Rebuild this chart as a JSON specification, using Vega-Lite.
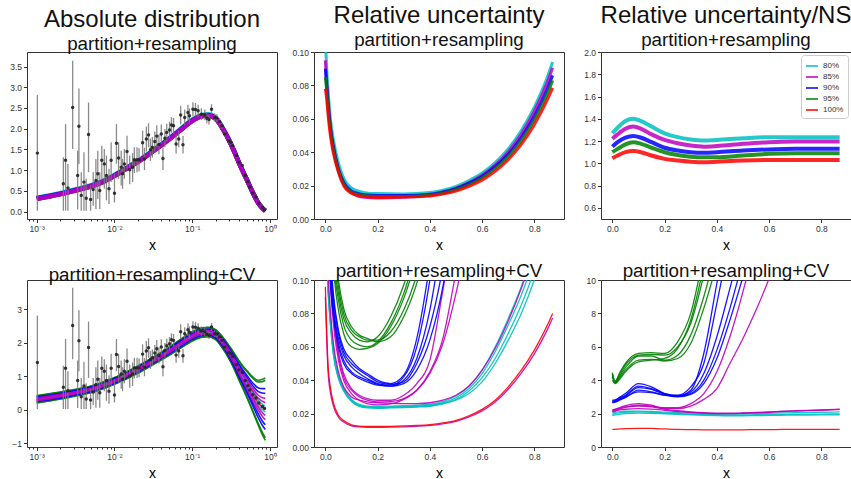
{
"$schema": "https://vega.github.io/schema/vega-lite/v6.json",
"background": "white",
"padding": {"left": 9, "top": 3, "right": 0, "bottom": 0},
"columns": 3,
"spacing": {"row": 61, "column": 37},
"bounds": "flush",
"resolve": {"scale": {"x": "independent", "y": "independent", "color": "independent"}, "legend": {"color": "independent"}, "axis": {"x": "independent", "y": "independent"}},
"config": {
 "font": "Liberation Sans",
 "view": {"stroke": "#333", "strokeWidth": 1},
 "axis": {"domain": false, "grid": false, "tickColor": "#333", "tickSize": 3.5, "labelFontSize": 8.5, "labelColor": "#333", "labelPadding": 2, "labelOverlap": false, "titleFontSize": 14, "titleFontWeight": "normal", "titleColor": "#000", "titlePadding": 5},
 "title": {"font": "Liberation Sans", "fontSize": 24, "fontWeight": "normal", "subtitleFont": "Liberation Sans", "subtitleFontSize": 18.8, "subtitleColor": "#111", "color": "#111", "offset": -2, "subtitlePadding": 3, "anchor": "middle"}
},
"datasets": {
 "abs1": [
  {"x":0.001,"c":0.335,"m":0.31,"b":0.32,"g":0.31,"r":0.305},
  {"x":0.0015,"c":0.395,"m":0.37,"b":0.38,"g":0.37,"r":0.365},
  {"x":0.002,"c":0.445,"m":0.42,"b":0.43,"g":0.42,"r":0.415},
  {"x":0.003,"c":0.525,"m":0.50,"b":0.51,"g":0.50,"r":0.495},
  {"x":0.005,"c":0.635,"m":0.61,"b":0.62,"g":0.61,"r":0.605},
  {"x":0.007,"c":0.735,"m":0.71,"b":0.72,"g":0.71,"r":0.705},
  {"x":0.01,"c":0.885,"m":0.86,"b":0.87,"g":0.86,"r":0.855},
  {"x":0.015,"c":1.085,"m":1.06,"b":1.07,"g":1.06,"r":1.055},
  {"x":0.02,"c":1.225,"m":1.20,"b":1.21,"g":1.20,"r":1.195},
  {"x":0.03,"c":1.455,"m":1.43,"b":1.44,"g":1.43,"r":1.425},
  {"x":0.05,"c":1.765,"m":1.74,"b":1.75,"g":1.74,"r":1.735},
  {"x":0.07,"c":1.985,"m":1.96,"b":1.97,"g":1.96,"r":1.955},
  {"x":0.1,"c":2.215,"m":2.19,"b":2.20,"g":2.19,"r":2.185},
  {"x":0.13,"c":2.325,"m":2.30,"b":2.31,"g":2.30,"r":2.295},
  {"x":0.16,"c":2.345,"m":2.32,"b":2.33,"g":2.32,"r":2.315},
  {"x":0.2,"c":2.265,"m":2.24,"b":2.25,"g":2.24,"r":2.235},
  {"x":0.25,"c":2.0,"m":1.98,"b":1.99,"g":1.98,"r":1.975},
  {"x":0.3,"c":1.72,"m":1.70,"b":1.71,"g":1.70,"r":1.695},
  {"x":0.35,"c":1.445,"m":1.43,"b":1.44,"g":1.43,"r":1.425},
  {"x":0.4,"c":1.18,"m":1.17,"b":1.175,"g":1.17,"r":1.165},
  {"x":0.45,"c":0.97,"m":0.96,"b":0.965,"g":0.96,"r":0.955},
  {"x":0.5,"c":0.79,"m":0.78,"b":0.785,"g":0.78,"r":0.775},
  {"x":0.6,"c":0.465,"m":0.46,"b":0.46,"g":0.46,"r":0.455},
  {"x":0.7,"c":0.225,"m":0.22,"b":0.22,"g":0.22,"r":0.215},
  {"x":0.8,"c":0.085,"m":0.08,"b":0.08,"g":0.08,"r":0.075},
  {"x":0.87,"c":0.025,"m":0.02,"b":0.02,"g":0.02,"r":0.015}
 ],
 "abs4": [
  {"x":0.001,"g1":0.42,"g2":0.41,"g3":0.21,"g4":0.20,"b1":0.38,"b2":0.37,"b3":0.26,"b4":0.24,"m1":0.35,"m2":0.33,"m3":0.29,"m4":0.27,"c1":0.32,"c2":0.30,"r1":0.31},
  {"x":0.002,"g1":0.53,"g2":0.52,"g3":0.32,"g4":0.32,"b1":0.49,"b2":0.47,"b3":0.37,"b4":0.35,"m1":0.46,"m2":0.44,"m3":0.40,"m4":0.38,"c1":0.43,"c2":0.41,"r1":0.42},
  {"x":0.003,"g1":0.60,"g2":0.59,"g3":0.41,"g4":0.40,"b1":0.57,"b2":0.55,"b3":0.45,"b4":0.43,"m1":0.53,"m2":0.52,"m3":0.48,"m4":0.47,"c1":0.51,"c2":0.49,"r1":0.50},
  {"x":0.005,"g1":0.71,"g2":0.70,"g3":0.52,"g4":0.51,"b1":0.68,"b2":0.66,"b3":0.56,"b4":0.54,"m1":0.64,"m2":0.63,"m3":0.59,"m4":0.58,"c1":0.62,"c2":0.60,"r1":0.61},
  {"x":0.01,"g1":0.96,"g2":0.95,"g3":0.77,"g4":0.76,"b1":0.93,"b2":0.91,"b3":0.81,"b4":0.79,"m1":0.89,"m2":0.88,"m3":0.84,"m4":0.83,"c1":0.87,"c2":0.85,"r1":0.86},
  {"x":0.02,"g1":1.31,"g2":1.30,"g3":1.10,"g4":1.09,"b1":1.27,"b2":1.26,"b3":1.15,"b4":1.13,"m1":1.24,"m2":1.22,"m3":1.18,"m4":1.16,"c1":1.21,"c2":1.19,"r1":1.20},
  {"x":0.03,"g1":1.54,"g2":1.53,"g3":1.33,"g4":1.32,"b1":1.50,"b2":1.49,"b3":1.38,"b4":1.36,"m1":1.47,"m2":1.45,"m3":1.41,"m4":1.39,"c1":1.44,"c2":1.42,"r1":1.43},
  {"x":0.05,"g1":1.86,"g2":1.85,"g3":1.63,"g4":1.62,"b1":1.82,"b2":1.80,"b3":1.68,"b4":1.66,"m1":1.78,"m2":1.76,"m3":1.72,"m4":1.70,"c1":1.75,"c2":1.73,"r1":1.74},
  {"x":0.07,"g1":2.09,"g2":2.08,"g3":1.84,"g4":1.83,"b1":2.05,"b2":2.03,"b3":1.90,"b4":1.87,"m1":2.00,"m2":1.99,"m3":1.93,"m4":1.92,"c1":1.97,"c2":1.95,"r1":1.96},
  {"x":0.1,"g1":2.33,"g2":2.32,"g3":2.06,"g4":2.05,"b1":2.28,"b2":2.26,"b3":2.12,"b4":2.10,"m1":2.24,"m2":2.22,"m3":2.16,"m4":2.14,"c1":2.20,"c2":2.18,"r1":2.19},
  {"x":0.13,"g1":2.44,"g2":2.43,"g3":2.17,"g4":2.16,"b1":2.39,"b2":2.37,"b3":2.23,"b4":2.21,"m1":2.35,"m2":2.33,"m3":2.27,"m4":2.25,"c1":2.31,"c2":2.29,"r1":2.30},
  {"x":0.16,"g1":2.46,"g2":2.45,"g3":2.19,"g4":2.18,"b1":2.41,"b2":2.39,"b3":2.25,"b4":2.23,"m1":2.37,"m2":2.35,"m3":2.29,"m4":2.27,"c1":2.33,"c2":2.31,"r1":2.32},
  {"x":0.2,"g1":2.39,"g2":2.38,"g3":2.10,"g4":2.09,"b1":2.34,"b2":2.32,"b3":2.17,"b4":2.14,"m1":2.29,"m2":2.27,"m3":2.21,"m4":2.19,"c1":2.26,"c2":2.23,"r1":2.24},
  {"x":0.25,"g1":2.15,"g2":2.14,"g3":1.82,"g4":1.81,"b1":2.09,"b2":2.07,"b3":1.90,"b4":1.87,"m1":2.04,"m2":2.01,"m3":1.95,"m4":1.92,"c1":2.00,"c2":1.96,"r1":1.98},
  {"x":0.3,"g1":1.90,"g2":1.88,"g3":1.52,"g4":1.50,"b1":1.83,"b2":1.80,"b3":1.60,"b4":1.57,"m1":1.77,"m2":1.74,"m3":1.66,"m4":1.63,"c1":1.72,"c2":1.68,"r1":1.70},
  {"x":0.35,"g1":1.67,"g2":1.65,"g3":1.21,"g4":1.19,"b1":1.59,"b2":1.55,"b3":1.31,"b4":1.27,"m1":1.51,"m2":1.48,"m3":1.38,"m4":1.35,"c1":1.45,"c2":1.41,"r1":1.43},
  {"x":0.4,"g1":1.46,"g2":1.44,"g3":0.90,"g4":0.88,"b1":1.36,"b2":1.32,"b3":1.03,"b4":0.98,"m1":1.27,"m2":1.23,"m3":1.11,"m4":1.07,"c1":1.20,"c2":1.14,"r1":1.17},
  {"x":0.45,"g1":1.30,"g2":1.27,"g3":0.65,"g4":0.62,"b1":1.18,"b2":1.13,"b3":0.79,"b4":0.74,"m1":1.08,"m2":1.03,"m3":0.89,"m4":0.84,"c1":0.99,"c2":0.93,"r1":0.96},
  {"x":0.5,"g1":1.18,"g2":1.15,"g3":0.41,"g4":0.38,"b1":1.04,"b2":0.98,"b3":0.58,"b4":0.52,"m1":0.92,"m2":0.86,"m3":0.70,"m4":0.64,"c1":0.82,"c2":0.74,"r1":0.78},
  {"x":0.6,"g1":0.98,"g2":0.94,"g3":-0.02,"g4":-0.06,"b1":0.80,"b2":0.72,"b3":0.20,"b4":0.12,"m1":0.64,"m2":0.56,"m3":0.36,"m4":0.28,"c1":0.51,"c2":0.41,"r1":0.46},
  {"x":0.7,"g1":0.88,"g2":0.83,"g3":-0.39,"g4":-0.44,"b1":0.66,"b2":0.55,"b3":-0.11,"b4":-0.22,"m1":0.44,"m2":0.35,"m3":0.09,"m4":0.00,"c1":0.29,"c2":0.15,"r1":0.22},
  {"x":0.8,"g1":0.91,"g2":0.84,"g3":-0.68,"g4":-0.75,"b1":0.63,"b2":0.50,"b3":-0.34,"b4":-0.47,"m1":0.36,"m2":0.25,"m3":-0.09,"m4":-0.20,"c1":0.16,"c2":0.00,"r1":0.08},
  {"x":0.87,"g1":0.95,"g2":0.88,"g3":-0.84,"g4":-0.91,"b1":0.63,"b2":0.49,"b3":-0.45,"b4":-0.59,"m1":0.34,"m2":0.21,"m3":-0.17,"m4":-0.30,"c1":0.11,"c2":-0.07,"r1":0.02}
 ],
 "pts": [
  {"x":0.00102,"y":1.41,"lo":0.02,"hi":2.81},
  {"x":0.0022,"y":0.67,"lo":0.02,"hi":1.31},
  {"x":0.00235,"y":1.24,"lo":0.02,"hi":2.11},
  {"x":0.00252,"y":0.57,"lo":0.02,"hi":1.15},
  {"x":0.0029,"y":2.51,"lo":1.51,"hi":3.64},
  {"x":0.00336,"y":0.87,"lo":0.05,"hi":1.47},
  {"x":0.00349,"y":2.06,"lo":1.15,"hi":2.97},
  {"x":0.00374,"y":0.39,"lo":0.02,"hi":0.95},
  {"x":0.00405,"y":0.71,"lo":0.02,"hi":1.43},
  {"x":0.00433,"y":0.32,"lo":0.02,"hi":0.79},
  {"x":0.00464,"y":1.86,"lo":0.95,"hi":2.63},
  {"x":0.00493,"y":0.29,"lo":0.02,"hi":0.63},
  {"x":0.00533,"y":0.53,"lo":0.14,"hi":0.95},
  {"x":0.00577,"y":0.75,"lo":0.06,"hi":1.27},
  {"x":0.0061,"y":0.91,"lo":0.30,"hi":1.47},
  {"x":0.00647,"y":0.51,"lo":0.06,"hi":0.95},
  {"x":0.00687,"y":1.24,"lo":0.75,"hi":1.59},
  {"x":0.0074,"y":1.15,"lo":0.55,"hi":1.51},
  {"x":0.00788,"y":0.87,"lo":0.27,"hi":1.35},
  {"x":0.0085,"y":0.55,"lo":0.18,"hi":1.03},
  {"x":0.00906,"y":1.24,"lo":0.71,"hi":1.67},
  {"x":0.0100,"y":0.44,"lo":0.22,"hi":0.91},
  {"x":0.0106,"y":1.65,"lo":1.15,"hi":2.11},
  {"x":0.0113,"y":1.29,"lo":0.79,"hi":1.67},
  {"x":0.0122,"y":1.07,"lo":0.63,"hi":1.47},
  {"x":0.0127,"y":0.91,"lo":0.55,"hi":1.27},
  {"x":0.0134,"y":1.15,"lo":0.79,"hi":1.51},
  {"x":0.0145,"y":1.45,"lo":1.03,"hi":1.83},
  {"x":0.0157,"y":1.01,"lo":0.66,"hi":1.35},
  {"x":0.0171,"y":1.07,"lo":0.71,"hi":1.41},
  {"x":0.018,"y":1.25,"lo":0.93,"hi":1.55},
  {"x":0.0195,"y":1.25,"lo":0.95,"hi":1.55},
  {"x":0.0207,"y":1.25,"lo":0.97,"hi":1.53},
  {"x":0.023,"y":1.66,"lo":1.35,"hi":1.95},
  {"x":0.0243,"y":1.27,"lo":1.0,"hi":1.54},
  {"x":0.0257,"y":1.75,"lo":1.45,"hi":2.05},
  {"x":0.0274,"y":1.85,"lo":1.55,"hi":2.13},
  {"x":0.029,"y":1.49,"lo":1.22,"hi":1.76},
  {"x":0.0307,"y":1.55,"lo":1.3,"hi":1.8},
  {"x":0.033,"y":1.69,"lo":1.45,"hi":1.93},
  {"x":0.035,"y":1.82,"lo":1.55,"hi":2.08},
  {"x":0.0373,"y":1.62,"lo":1.38,"hi":1.86},
  {"x":0.040,"y":1.87,"lo":1.64,"hi":2.1},
  {"x":0.042,"y":1.28,"lo":1.0,"hi":1.55},
  {"x":0.0445,"y":1.77,"lo":1.55,"hi":1.99},
  {"x":0.047,"y":1.91,"lo":1.7,"hi":2.12},
  {"x":0.051,"y":1.97,"lo":1.77,"hi":2.17},
  {"x":0.054,"y":2.09,"lo":1.9,"hi":2.28},
  {"x":0.0575,"y":2.07,"lo":1.88,"hi":2.26},
  {"x":0.062,"y":1.63,"lo":1.4,"hi":1.86},
  {"x":0.067,"y":1.75,"lo":1.55,"hi":1.95},
  {"x":0.071,"y":2.33,"lo":2.1,"hi":2.55},
  {"x":0.076,"y":1.61,"lo":1.4,"hi":1.82},
  {"x":0.080,"y":2.27,"lo":2.08,"hi":2.46},
  {"x":0.088,"y":2.39,"lo":2.2,"hi":2.58},
  {"x":0.092,"y":2.31,"lo":2.13,"hi":2.49},
  {"x":0.102,"y":2.47,"lo":2.3,"hi":2.64},
  {"x":0.110,"y":2.46,"lo":2.3,"hi":2.62},
  {"x":0.119,"y":2.43,"lo":2.28,"hi":2.58},
  {"x":0.131,"y":2.35,"lo":2.21,"hi":2.49},
  {"x":0.145,"y":2.33,"lo":2.2,"hi":2.46},
  {"x":0.154,"y":2.25,"lo":2.13,"hi":2.37},
  {"x":0.164,"y":2.22,"lo":2.1,"hi":2.34},
  {"x":0.177,"y":2.47,"lo":2.35,"hi":2.59},
  {"x":0.194,"y":2.27,"lo":2.17,"hi":2.37},
  {"x":0.207,"y":2.26,"lo":2.17,"hi":2.35},
  {"x":0.225,"y":2.17,"lo":2.09,"hi":2.25},
  {"x":0.242,"y":2.07,"lo":2.0,"hi":2.14},
  {"x":0.262,"y":1.87,"lo":1.8,"hi":1.94},
  {"x":0.295,"y":1.71,"lo":1.65,"hi":1.77},
  {"x":0.314,"y":1.67,"lo":1.61,"hi":1.73},
  {"x":0.33,"y":1.59,"lo":1.54,"hi":1.64},
  {"x":0.37,"y":1.35,"lo":1.3,"hi":1.4},
  {"x":0.40,"y":1.19,"lo":1.15,"hi":1.23},
  {"x":0.44,"y":1.11,"lo":1.07,"hi":1.15},
  {"x":0.48,"y":0.87,"lo":0.84,"hi":0.90},
  {"x":0.52,"y":0.72,"lo":0.69,"hi":0.75},
  {"x":0.55,"y":0.59,"lo":0.56,"hi":0.62},
  {"x":0.6,"y":0.45,"lo":0.43,"hi":0.47},
  {"x":0.66,"y":0.35,"lo":0.33,"hi":0.37},
  {"x":0.72,"y":0.2,"lo":0.19,"hi":0.21},
  {"x":0.80,"y":0.10,"lo":0.09,"hi":0.11},
  {"x":0.85,"y":0.04,"lo":0.03,"hi":0.05}
 ],
 "rel2": [
  {"x":0,"c":0.108,"m":0.095,"b":0.09,"g":0.085,"r":0.078},
  {"x":0.005,"c":0.09,"m":0.082,"b":0.08,"g":0.077,"r":0.072},
  {"x":0.01,"c":0.078,"m":0.071,"b":0.07,"g":0.067,"r":0.063},
  {"x":0.02,"c":0.059,"m":0.054,"b":0.054,"g":0.052,"r":0.049},
  {"x":0.03,"c":0.048,"m":0.043,"b":0.044,"g":0.042,"r":0.040},
  {"x":0.05,"c":0.0335,"m":0.029,"b":0.030,"g":0.029,"r":0.028},
  {"x":0.07,"c":0.0245,"m":0.021,"b":0.022,"g":0.021,"r":0.020},
  {"x":0.1,"c":0.0185,"m":0.0157,"b":0.0168,"g":0.016,"r":0.0155},
  {"x":0.15,"c":0.0158,"m":0.013,"b":0.0146,"g":0.0139,"r":0.0134},
  {"x":0.2,"c":0.0152,"m":0.0126,"b":0.0141,"g":0.0134,"r":0.0129},
  {"x":0.3,"c":0.015,"m":0.013,"b":0.014,"g":0.0134,"r":0.0132},
  {"x":0.4,"c":0.0158,"m":0.0143,"b":0.0148,"g":0.0142,"r":0.0138},
  {"x":0.45,"c":0.0172,"m":0.0158,"b":0.0162,"g":0.0155,"r":0.015},
  {"x":0.5,"c":0.0195,"m":0.0183,"b":0.0183,"g":0.0175,"r":0.0168},
  {"x":0.55,"c":0.023,"m":0.0218,"b":0.0215,"g":0.0205,"r":0.0196},
  {"x":0.6,"c":0.0275,"m":0.0262,"b":0.0255,"g":0.0245,"r":0.0233},
  {"x":0.65,"c":0.0338,"m":0.0322,"b":0.0313,"g":0.030,"r":0.0285},
  {"x":0.7,"c":0.042,"m":0.0402,"b":0.0388,"g":0.0372,"r":0.0355},
  {"x":0.75,"c":0.053,"m":0.0508,"b":0.0488,"g":0.0468,"r":0.0447},
  {"x":0.8,"c":0.067,"m":0.0645,"b":0.0615,"g":0.0592,"r":0.0565},
  {"x":0.85,"c":0.085,"m":0.082,"b":0.078,"g":0.075,"r":0.0715},
  {"x":0.87,"c":0.094,"m":0.0905,"b":0.086,"g":0.083,"r":0.0785}
 ],
 "rel3": [
  {"x":0,"c":1.27,"m":1.22,"b":1.15,"g":1.10,"r":1.045},
  {"x":0.02,"c":1.32,"m":1.26,"b":1.19,"g":1.13,"r":1.07},
  {"x":0.05,"c":1.38,"m":1.31,"b":1.23,"g":1.17,"r":1.10},
  {"x":0.08,"c":1.40,"m":1.33,"b":1.245,"g":1.19,"r":1.11},
  {"x":0.11,"c":1.38,"m":1.31,"b":1.23,"g":1.175,"r":1.10},
  {"x":0.15,"c":1.33,"m":1.26,"b":1.19,"g":1.14,"r":1.07},
  {"x":0.2,"c":1.27,"m":1.21,"b":1.14,"g":1.10,"r":1.04},
  {"x":0.25,"c":1.235,"m":1.18,"b":1.115,"g":1.075,"r":1.025},
  {"x":0.3,"c":1.215,"m":1.16,"b":1.10,"g":1.06,"r":1.015},
  {"x":0.35,"c":1.205,"m":1.15,"b":1.095,"g":1.055,"r":1.01},
  {"x":0.4,"c":1.21,"m":1.155,"b":1.10,"g":1.055,"r":1.015},
  {"x":0.5,"c":1.225,"m":1.175,"b":1.115,"g":1.07,"r":1.025},
  {"x":0.6,"c":1.235,"m":1.19,"b":1.125,"g":1.085,"r":1.03},
  {"x":0.7,"c":1.235,"m":1.195,"b":1.13,"g":1.09,"r":1.03},
  {"x":0.8,"c":1.235,"m":1.195,"b":1.13,"g":1.09,"r":1.03},
  {"x":0.87,"c":1.235,"m":1.195,"b":1.13,"g":1.09,"r":1.03}
 ],
 "rel5": [
  {"x":0,"r1":0.096,"m1":0.090,"c1":0.16,"c2":0.15,"c3":0.17,"c4":0.155,"m2":0.2,"m3":0.3,"m4":0.28,"m5":0.3,"b1":0.4,"b2":0.38,"b3":0.42,"b4":0.37,"b5":0.44,"g1":0.6,"g2":0.6,"g3":0.6,"g4":0.6,"g5":0.6},
  {"x":0.01,"r1":0.05,"m1":0.046,"c1":0.098,"c2":0.095,"c3":0.10,"c4":0.096,"m2":0.11,"m3":0.14,"m4":0.13,"m5":0.15,"b1":0.15,"b2":0.145,"b3":0.16,"b4":0.14,"b5":0.17,"g1":0.3,"g2":0.29,"g3":0.31,"g4":0.28,"g5":0.32},
  {"x":0.02,"r1":0.035,"m1":0.032,"c1":0.075,"c2":0.072,"c3":0.077,"c4":0.073,"m2":0.08,"m3":0.10,"m4":0.095,"m5":0.105,"b1":0.105,"b2":0.10,"b3":0.11,"b4":0.098,"b5":0.115,"g1":0.16,"g2":0.15,"g3":0.17,"g4":0.14,"g5":0.175},
  {"x":0.03,"r1":0.027,"m1":0.025,"c1":0.058,"c2":0.056,"c3":0.06,"c4":0.057,"m2":0.063,"m3":0.08,"m4":0.075,"m5":0.082,"b1":0.085,"b2":0.082,"b3":0.09,"b4":0.08,"b5":0.093,"g1":0.12,"g2":0.115,"g3":0.125,"g4":0.11,"g5":0.13},
  {"x":0.05,"r1":0.019,"m1":0.0178,"c1":0.042,"c2":0.041,"c3":0.043,"c4":0.0415,"m2":0.045,"m3":0.055,"m4":0.052,"m5":0.057,"b1":0.065,"b2":0.062,"b3":0.068,"b4":0.06,"b5":0.07,"g1":0.092,"g2":0.088,"g3":0.096,"g4":0.082,"g5":0.10},
  {"x":0.07,"r1":0.0158,"m1":0.015,"c1":0.0345,"c2":0.0335,"c3":0.0352,"c4":0.034,"m2":0.036,"m3":0.042,"m4":0.040,"m5":0.044,"b1":0.055,"b2":0.052,"b3":0.057,"b4":0.050,"b5":0.059,"g1":0.077,"g2":0.073,"g3":0.080,"g4":0.068,"g5":0.083},
  {"x":0.1,"r1":0.0133,"m1":0.0127,"c1":0.028,"c2":0.0272,"c3":0.0285,"c4":0.0276,"m2":0.030,"m3":0.034,"m4":0.032,"m5":0.035,"b1":0.048,"b2":0.045,"b3":0.050,"b4":0.044,"b5":0.052,"g1":0.068,"g2":0.064,"g3":0.070,"g4":0.060,"g5":0.072},
  {"x":0.13,"r1":0.0125,"m1":0.012,"c1":0.025,"c2":0.0243,"c3":0.0255,"c4":0.0246,"m2":0.028,"m3":0.030,"m4":0.028,"m5":0.031,"b1":0.044,"b2":0.042,"b3":0.046,"b4":0.041,"b5":0.047,"g1":0.064,"g2":0.061,"g3":0.066,"g4":0.0585,"g5":0.067},
  {"x":0.16,"r1":0.0123,"m1":0.0118,"c1":0.024,"c2":0.0234,"c3":0.0245,"c4":0.0237,"m2":0.027,"m3":0.028,"m4":0.026,"m5":0.029,"b1":0.041,"b2":0.040,"b3":0.043,"b4":0.039,"b5":0.044,"g1":0.063,"g2":0.060,"g3":0.064,"g4":0.059,"g5":0.065},
  {"x":0.2,"r1":0.0123,"m1":0.0118,"c1":0.0238,"c2":0.0232,"c3":0.0243,"c4":0.0235,"m2":0.0265,"m3":0.027,"m4":0.0252,"m5":0.028,"b1":0.038,"b2":0.0375,"b3":0.039,"b4":0.037,"b5":0.040,"g1":0.066,"g2":0.063,"g3":0.064,"g4":0.062,"g5":0.063},
  {"x":0.25,"r1":0.0124,"m1":0.0119,"c1":0.024,"c2":0.0234,"c3":0.0245,"c4":0.0237,"m2":0.0262,"m3":0.0272,"m4":0.0258,"m5":0.028,"b1":0.037,"b2":0.0365,"b3":0.0375,"b4":0.0365,"b5":0.038,"g1":0.078,"g2":0.074,"g3":0.069,"g4":0.072,"g5":0.066},
  {"x":0.3,"r1":0.0126,"m1":0.0121,"c1":0.0242,"c2":0.0236,"c3":0.0247,"c4":0.0239,"m2":0.026,"m3":0.029,"m4":0.0285,"m5":0.031,"b1":0.042,"b2":0.040,"b3":0.039,"b4":0.038,"b5":0.043,"g1":0.097,"g2":0.092,"g3":0.082,"g4":0.089,"g5":0.078},
  {"x":0.35,"r1":0.0129,"m1":0.0124,"c1":0.0245,"c2":0.0239,"c3":0.025,"c4":0.0242,"m2":0.026,"m3":0.034,"m4":0.034,"m5":0.038,"b1":0.06,"b2":0.053,"b3":0.050,"b4":0.046,"b5":0.065,"g1":0.125,"g2":0.118,"g3":0.103,"g4":0.114,"g5":0.098},
  {"x":0.4,"r1":0.0134,"m1":0.0129,"c1":0.025,"c2":0.0244,"c3":0.0256,"c4":0.0247,"m2":0.0265,"m3":0.044,"m4":0.045,"m5":0.052,"b1":0.10,"b2":0.082,"b3":0.072,"b4":0.064,"b5":0.11,"g1":0.16,"g2":0.15,"g3":0.135,"g4":0.15,"g5":0.128},
  {"x":0.45,"r1":0.0144,"m1":0.0139,"c1":0.0265,"c2":0.0258,"c3":0.0272,"c4":0.026,"m2":0.028,"m3":0.062,"m4":0.065,"m5":0.094,"b1":0.16,"b2":0.13,"b3":0.108,"b4":0.096,"b5":0.17},
  {"x":0.5,"r1":0.016,"m1":0.0154,"c1":0.0295,"c2":0.0285,"c3":0.0305,"c4":0.028,"m2":0.031,"m3":0.092,"m4":0.105,"m5":0.14,"b3":0.16,"b4":0.145},
  {"x":0.55,"r1":0.0187,"m1":0.018,"c1":0.035,"c2":0.0335,"c3":0.0365,"c4":0.032,"m2":0.0365,"m3":0.13,"m4":0.15},
  {"x":0.6,"r1":0.0225,"m1":0.0216,"c1":0.044,"c2":0.0415,"c3":0.046,"c4":0.039,"m2":0.046,"m3":0.18},
  {"x":0.65,"r1":0.028,"m1":0.0269,"c1":0.057,"c2":0.053,"c3":0.060,"c4":0.050,"m2":0.059},
  {"x":0.7,"r1":0.036,"m1":0.0346,"c1":0.073,"c2":0.068,"c3":0.077,"c4":0.064,"m2":0.0755},
  {"x":0.75,"r1":0.046,"m1":0.0443,"c1":0.091,"c2":0.085,"c3":0.096,"c4":0.080,"m2":0.095},
  {"x":0.8,"r1":0.058,"m1":0.0558,"c1":0.113,"c2":0.106,"c3":0.119,"c4":0.100,"m2":0.118},
  {"x":0.85,"r1":0.073,"m1":0.0703,"c1":0.14,"c2":0.132,"c3":0.148,"c4":0.125,"m2":0.146},
  {"x":0.87,"r1":0.080,"m1":0.0772,"c1":0.15,"c2":0.142,"c3":0.16,"c4":0.135,"m2":0.156}
 ],
 "rel6": [
  {"x":0,"r1":1.05,"c1":1.95,"c2":2.05,"c3":1.88,"m1":2.15,"m2":2.2,"m3":2.1,"m4":2.2,"b1":2.75,"b2":2.7,"b3":2.65,"b4":2.8,"b5":2.7,"g1":4.4,"g2":4.2,"g3":4.3,"g4":4.0,"g5":4.45},
  {"x":0.01,"r1":1.06,"c1":2.0,"c2":2.08,"c3":1.92,"m1":2.18,"m2":2.25,"m3":2.15,"m4":2.25,"b1":2.78,"b2":2.72,"b3":2.68,"b4":2.82,"b5":2.72,"g1":3.9,"g2":3.85,"g3":3.85,"g4":3.8,"g5":3.95},
  {"x":0.03,"r1":1.08,"c1":2.05,"c2":2.12,"c3":1.97,"m1":2.22,"m2":2.33,"m3":2.28,"m4":2.38,"b1":3.0,"b2":2.9,"b3":2.82,"b4":2.95,"b5":2.85,"g1":4.4,"g2":4.3,"g3":4.2,"g4":4.1,"g5":4.5},
  {"x":0.05,"r1":1.10,"c1":2.08,"c2":2.14,"c3":2.0,"m1":2.26,"m2":2.4,"m3":2.38,"m4":2.48,"b1":3.2,"b2":3.05,"b3":2.95,"b4":3.1,"b5":3.0,"g1":4.9,"g2":4.75,"g3":4.6,"g4":4.5,"g5":5.0},
  {"x":0.1,"r1":1.12,"c1":2.1,"c2":2.15,"c3":2.03,"m1":2.3,"m2":2.45,"m3":2.5,"m4":2.6,"b1":3.8,"b2":3.55,"b3":3.4,"b4":3.65,"b5":3.3,"g1":5.5,"g2":5.45,"g3":5.2,"g4":5.1,"g5":5.6},
  {"x":0.15,"r1":1.11,"c1":2.08,"c2":2.13,"c3":2.02,"m1":2.27,"m2":2.4,"m3":2.45,"m4":2.5,"b1":3.6,"b2":3.45,"b3":3.3,"b4":3.5,"b5":3.25,"g1":5.55,"g2":5.45,"g3":5.25,"g4":5.2,"g5":5.65},
  {"x":0.2,"r1":1.08,"c1":2.04,"c2":2.09,"c3":1.99,"m1":2.2,"m2":2.27,"m3":2.35,"m4":2.3,"b1":3.2,"b2":3.15,"b3":3.1,"b4":3.2,"b5":3.1,"g1":5.5,"g2":5.2,"g3":5.15,"g4":5.3,"g5":5.6},
  {"x":0.25,"r1":1.05,"c1":2.0,"c2":2.05,"c3":1.96,"m1":2.12,"m2":2.17,"m3":2.35,"m4":2.3,"b1":3.05,"b2":3.05,"b3":3.05,"b4":3.1,"b5":3.0,"g1":6.0,"g2":5.5,"g3":5.3,"g4":5.9,"g5":6.3},
  {"x":0.3,"r1":1.04,"c1":1.97,"c2":2.02,"c3":1.93,"m1":2.07,"m2":2.1,"m3":2.6,"m4":2.45,"b1":3.4,"b2":3.3,"b3":3.2,"b4":3.6,"b5":3.15,"g1":7.4,"g2":6.7,"g3":6.2,"g4":7.6,"g5":8.0},
  {"x":0.35,"r1":1.03,"c1":1.95,"c2":2.0,"c3":1.9,"m1":2.03,"m2":2.05,"m3":3.2,"m4":2.85,"b1":5.6,"b2":4.4,"b3":4.0,"b4":5.0,"b5":3.8,"g1":10.3,"g2":9.0,"g3":8.3,"g4":10.8,"g5":11.5},
  {"x":0.4,"r1":1.03,"c1":1.93,"c2":1.99,"c3":1.88,"m1":2.0,"m2":2.02,"m3":4.5,"m4":3.5,"b1":9.8,"b2":6.6,"b3":5.8,"b4":8.6,"b5":5.3,"g1":14,"g2":12,"g3":11,"g4":14,"g5":15},
  {"x":0.45,"r1":1.03,"c1":1.92,"c2":1.98,"c3":1.87,"m1":2.0,"m2":2.02,"m3":6.6,"m4":5.0,"b1":14,"b2":9.5,"b3":8.3,"b4":12.5,"b5":7.6},
  {"x":0.5,"r1":1.03,"c1":1.92,"c2":1.99,"c3":1.87,"m1":2.02,"m2":2.04,"m3":9.3,"m4":6.5,"b2":12.5,"b3":11.2,"b5":10.2},
  {"x":0.55,"r1":1.04,"c1":1.93,"c2":2.0,"c3":1.88,"m1":2.05,"m2":2.07,"m3":12.5,"m4":8.2,"b5":13},
  {"x":0.6,"r1":1.04,"c1":1.94,"c2":2.02,"c3":1.89,"m1":2.08,"m2":2.1,"m4":10.1},
  {"x":0.65,"r1":1.05,"c1":1.95,"c2":2.04,"c3":1.9,"m1":2.12,"m2":2.14,"m4":12.5},
  {"x":0.7,"r1":1.05,"c1":1.96,"c2":2.06,"c3":1.91,"m1":2.15,"m2":2.17},
  {"x":0.8,"r1":1.05,"c1":1.97,"c2":2.08,"c3":1.92,"m1":2.2,"m2":2.22},
  {"x":0.87,"r1":1.05,"c1":1.98,"c2":2.1,"c3":1.93,"m1":2.25,"m2":2.27}
 ]
},
"concat": [
 {
  "width": 250, "height": 167,
  "title": {"text": "Absolute distribution", "subtitle": "partition+resampling"},
  "resolve": {"axis": {"x": "independent"}},
  "layer": [
   {"data": {"name": "abs1"},
    "transform": [{"fold": ["c","r","g","b","m"], "as": ["s","v"]}],
    "mark": {"type": "line", "strokeWidth": 4.5, "clip": true, "interpolate": "monotone", "opacity": 0.9},
    "encoding": {
     "x": {"field": "x", "type": "quantitative", "title": null, "scale": {"type": "log", "domain": [0.00075, 1.23], "nice": false}, "axis": {"orient": "bottom", "values": [0.0008,0.0009,0.002,0.003,0.004,0.005,0.006,0.007,0.008,0.009,0.02,0.03,0.04,0.05,0.06,0.07,0.08,0.09,0.2,0.3,0.4,0.5,0.6,0.7,0.8,0.9], "labels": false, "tickSize": 2, "title": null}},
     "y": {"field": "v", "type": "quantitative", "title": null, "scale": {"domain": [-0.18, 3.85], "nice": false, "zero": false}, "axis": {"values": [0,0.5,1,1.5,2,2.5,3,3.5], "format": ".1f"}},
     "color": {"field": "s", "type": "nominal", "scale": {"domain": ["c","m","b","g","r"], "range": ["#00bfbf","#bf00bf","#0000ff","#008000","#ff0000"]}, "legend": null}
    }},
   {"data": {"name": "pts"},
    "mark": {"type": "rule", "color": "#777777", "strokeWidth": 1.3, "opacity": 0.85},
    "encoding": {
     "x": {"field": "x", "type": "quantitative", "scale": {"type": "log", "domain": [0.00075, 1.23], "nice": false}, "axis": {"orient": "bottom", "values": [0.001,0.01,0.1,1], "labelExpr": "datum.value < 0.005 ? '10⁻³' : datum.value < 0.05 ? '10⁻²' : datum.value < 0.5 ? '10⁻¹' : '10⁰'", "title": "x"}},
     "y": {"field": "lo", "type": "quantitative", "title": null, "scale": {"domain": [-0.18, 3.85], "nice": false, "zero": false}, "axis": {"values": [0,0.5,1,1.5,2,2.5,3,3.5], "format": ".1f"}},
     "y2": {"field": "hi"}
    }},
   {"data": {"name": "pts"},
    "mark": {"type": "point", "filled": true, "color": "#222", "size": 12, "opacity": 0.9},
    "encoding": {
     "x": {"field": "x", "type": "quantitative", "scale": {"type": "log", "domain": [0.00075, 1.23], "nice": false}, "axis": null},
     "y": {"field": "y", "type": "quantitative", "title": null, "scale": {"domain": [-0.18, 3.85], "nice": false, "zero": false}, "axis": {"values": [0,0.5,1,1.5,2,2.5,3,3.5], "format": ".1f"}}
    }}
  ]
 },
 {
  "width": 250, "height": 167,
  "title": {"text": "Relative uncertainty", "subtitle": "partition+resampling"},
  "data": {"name": "rel2"},
  "transform": [{"fold": ["c","m","b","g","r"], "as": ["s","v"]}],
  "mark": {"type": "line", "strokeWidth": 3, "clip": true, "interpolate": "monotone", "opacity": 0.85},
  "encoding": {
   "x": {"field": "x", "type": "quantitative", "title": "x", "scale": {"domain": [-0.0435, 0.9135], "nice": false, "zero": false}, "axis": {"values": [0,0.2,0.4,0.6,0.8], "format": ".1f"}},
   "y": {"field": "v", "type": "quantitative", "title": null, "scale": {"domain": [0, 0.1], "nice": false}, "axis": {"values": [0,0.02,0.04,0.06,0.08,0.1], "format": ".2f"}},
   "color": {"field": "s", "type": "nominal", "scale": {"domain": ["c","m","b","g","r"], "range": ["#00bfbf","#bf00bf","#0000ff","#008000","#ff0000"]}, "legend": null}
  }
 },
 {
  "width": 250, "height": 167,
  "title": {"text": "Relative uncertainty/NS", "subtitle": "partition+resampling"},
  "data": {"name": "rel3"},
  "transform": [{"fold": ["c","m","b","g","r"], "as": ["s","v"]}],
  "mark": {"type": "line", "strokeWidth": 4, "clip": true, "interpolate": "monotone", "opacity": 0.85},
  "encoding": {
   "x": {"field": "x", "type": "quantitative", "title": "x", "scale": {"domain": [-0.0435, 0.9135], "nice": false, "zero": false}, "axis": {"values": [0,0.2,0.4,0.6,0.8], "format": ".1f"}},
   "y": {"field": "v", "type": "quantitative", "title": null, "scale": {"domain": [0.5, 2.0], "nice": false, "zero": false}, "axis": {"values": [0.6,0.8,1.0,1.2,1.4,1.6,1.8,2.0], "format": ".1f"}},
   "color": {"field": "s", "type": "nominal", "scale": {"domain": ["c","m","b","g","r"], "range": ["#00bfbf","#bf00bf","#0000ff","#008000","#ff0000"]},
    "legend": {"orient": "top-right", "title": null, "symbolType": "stroke", "symbolStrokeWidth": 2, "symbolSize": 144, "labelFontSize": 8, "labelColor": "#333", "strokeColor": "#ccc", "fillColor": "white", "padding": 4, "cornerRadius": 3, "offset": 3, "rowPadding": 0, "symbolOpacity": 0.75,
     "labelExpr": "datum.label == 'c' ? '80%' : datum.label == 'm' ? '85%' : datum.label == 'b' ? '90%' : datum.label == 'g' ? '95%' : '100%'"}}
  }
 },
 {
  "width": 250, "height": 167,
  "title": {"text": "partition+resampling+CV", "fontSize": 18.8, "offset": -5},
  "resolve": {"axis": {"x": "independent"}},
  "layer": [
   {"data": {"name": "abs4"},
    "transform": [{"fold": ["g1","g2","g3","g4","b1","b2","b3","b4","r1","c1","c2","m1","m2","m3","m4"], "as": ["s","v"]}],
    "mark": {"type": "line", "strokeWidth": 1.6, "clip": true, "interpolate": "monotone", "opacity": 0.9},
    "encoding": {
     "x": {"field": "x", "type": "quantitative", "title": null, "scale": {"type": "log", "domain": [0.00075, 1.23], "nice": false}, "axis": {"orient": "bottom", "values": [0.0008,0.0009,0.002,0.003,0.004,0.005,0.006,0.007,0.008,0.009,0.02,0.03,0.04,0.05,0.06,0.07,0.08,0.09,0.2,0.3,0.4,0.5,0.6,0.7,0.8,0.9], "labels": false, "tickSize": 2, "title": null}},
     "y": {"field": "v", "type": "quantitative", "title": null, "scale": {"domain": [-1.11, 3.87], "nice": false, "zero": false}, "axis": {"values": [-1,0,1,2,3], "format": "d"}},
     "color": {"field": "s", "type": "nominal", "scale": {"domain": ["g1","g2","g3","g4","b1","b2","b3","b4","r1","c1","c2","m1","m2","m3","m4"], "range": ["#008000","#008000","#008000","#008000","#0000ff","#0000ff","#0000ff","#0000ff","#ff0000","#00bfbf","#00bfbf","#bf00bf","#bf00bf","#bf00bf","#bf00bf"]}, "legend": null}
    }},
   {"data": {"name": "pts"},
    "mark": {"type": "rule", "color": "#777777", "strokeWidth": 1.3, "opacity": 0.85},
    "encoding": {
     "x": {"field": "x", "type": "quantitative", "scale": {"type": "log", "domain": [0.00075, 1.23], "nice": false}, "axis": {"orient": "bottom", "values": [0.001,0.01,0.1,1], "labelExpr": "datum.value < 0.005 ? '10⁻³' : datum.value < 0.05 ? '10⁻²' : datum.value < 0.5 ? '10⁻¹' : '10⁰'", "title": "x"}},
     "y": {"field": "lo", "type": "quantitative", "title": null, "scale": {"domain": [-1.11, 3.87], "nice": false, "zero": false}, "axis": {"values": [-1,0,1,2,3], "format": "d"}},
     "y2": {"field": "hi"}
    }},
   {"data": {"name": "pts"},
    "mark": {"type": "point", "filled": true, "color": "#222", "size": 12, "opacity": 0.9},
    "encoding": {
     "x": {"field": "x", "type": "quantitative", "scale": {"type": "log", "domain": [0.00075, 1.23], "nice": false}, "axis": null},
     "y": {"field": "y", "type": "quantitative", "title": null, "scale": {"domain": [-1.11, 3.87], "nice": false, "zero": false}, "axis": {"values": [-1,0,1,2,3], "format": "d"}}
    }}
  ]
 },
 {
  "width": 250, "height": 167,
  "title": {"text": "partition+resampling+CV", "fontSize": 18.8, "offset": -5},
  "data": {"name": "rel5"},
  "transform": [{"fold": ["c1","c2","c3","c4","m2","m3","m4","m5","b1","b2","b3","b4","b5","g1","g2","g3","g4","g5","m1","r1"], "as": ["s","v"]}],
  "mark": {"type": "line", "strokeWidth": 1.3, "clip": true, "interpolate": "monotone", "opacity": 0.9},
  "encoding": {
   "x": {"field": "x", "type": "quantitative", "title": "x", "scale": {"domain": [-0.0435, 0.9135], "nice": false, "zero": false}, "axis": {"values": [0,0.2,0.4,0.6,0.8], "format": ".1f"}},
   "y": {"field": "v", "type": "quantitative", "title": null, "scale": {"domain": [0, 0.1], "nice": false}, "axis": {"values": [0,0.02,0.04,0.06,0.08,0.1], "format": ".2f"}},
   "color": {"field": "s", "type": "nominal", "scale": {"domain": ["c1","c2","c3","c4","m1","m2","m3","m4","m5","b1","b2","b3","b4","b5","g1","g2","g3","g4","g5","r1"], "range": ["#00bfbf","#00bfbf","#00bfbf","#00bfbf","#bf00bf","#bf00bf","#bf00bf","#bf00bf","#bf00bf","#0000ff","#0000ff","#0000ff","#0000ff","#0000ff","#008000","#008000","#008000","#008000","#008000","#ff0000"]}, "legend": null}
  }
 },
 {
  "width": 250, "height": 167,
  "title": {"text": "partition+resampling+CV", "fontSize": 18.8, "offset": -5},
  "data": {"name": "rel6"},
  "transform": [{"fold": ["c1","c2","c3","m1","m2","m3","m4","b1","b2","b3","b4","b5","g1","g2","g3","g4","g5","r1"], "as": ["s","v"]}],
  "mark": {"type": "line", "strokeWidth": 1.3, "clip": true, "interpolate": "monotone", "opacity": 0.9},
  "encoding": {
   "x": {"field": "x", "type": "quantitative", "title": "x", "scale": {"domain": [-0.0435, 0.9135], "nice": false, "zero": false}, "axis": {"values": [0,0.2,0.4,0.6,0.8], "format": ".1f"}},
   "y": {"field": "v", "type": "quantitative", "title": null, "scale": {"domain": [0, 10], "nice": false}, "axis": {"values": [0,2,4,6,8,10], "format": "d"}},
   "color": {"field": "s", "type": "nominal", "scale": {"domain": ["c1","c2","c3","m1","m2","m3","m4","b1","b2","b3","b4","b5","g1","g2","g3","g4","g5","r1"], "range": ["#00bfbf","#00bfbf","#00bfbf","#bf00bf","#bf00bf","#bf00bf","#bf00bf","#0000ff","#0000ff","#0000ff","#0000ff","#0000ff","#008000","#008000","#008000","#008000","#008000","#ff0000"]}, "legend": null}
  }
 }
]
}
